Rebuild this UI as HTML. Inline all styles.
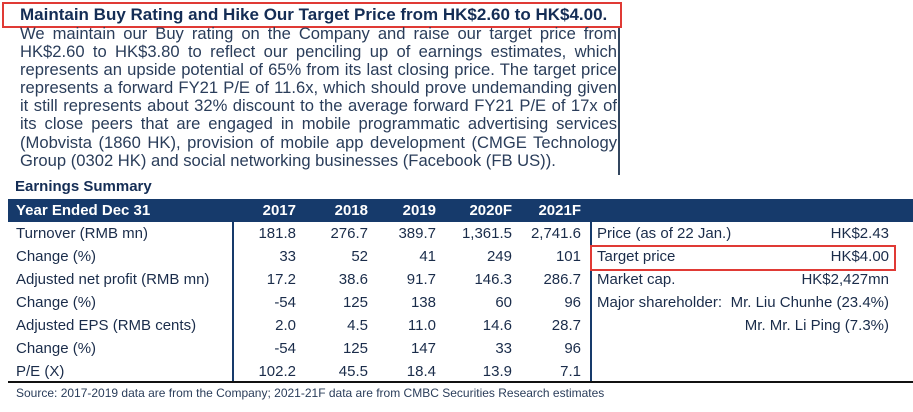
<!DOCTYPE html>
<html><head><meta charset="utf-8"><style>
body{margin:0;width:913px;height:412px;background:#fff;position:relative;overflow:hidden;font-family:"Liberation Sans",sans-serif;color:#1f3458}
.abs{position:absolute}
#title{left:2px;top:2px;width:600px;height:22px;border:2px solid #e03a35;font-weight:bold;font-size:17px;line-height:22px;padding-left:16px;box-sizing:content-box;color:#142d55;white-space:nowrap}
#para{left:20px;top:25px;width:597px;font-size:16.6px;line-height:18.1px;color:#2a3d5a}
#para div{text-align:justify;text-align-last:justify;white-space:nowrap;height:18.1px}
#para div.last{text-align-last:left}
#vline{left:618px;top:28px;width:2px;height:147px;background:#33465f}
.n{font-family:"Liberation Sans Narrow","Liberation Sans",sans-serif;font-size:15px;white-space:nowrap}
#band{left:8px;top:199px;width:905px;height:23px;background:#163a6b}
.h{color:#fff;font-weight:bold;top:202px}
.cell{color:#1a2c4a}
</style></head><body>
<div id="title" class="abs">Maintain Buy Rating and Hike Our Target Price from HK$2.60 to HK$4.00.</div>
<div id="para" class="abs">
<div>We maintain our Buy rating on the Company and raise our target price from</div>
<div>HK$2.60 to HK$3.80 to reflect our penciling up of earnings estimates, which</div>
<div>represents an upside potential of 65% from its last closing price. The target price</div>
<div>represents a forward FY21 P/E of 11.6x, which should prove undemanding given</div>
<div>it still represents about 32% discount to the average forward FY21 P/E of 17x of</div>
<div>its close peers that are engaged in mobile programmatic advertising services</div>
<div>(Mobvista (1860 HK), provision of mobile app development (CMGE Technology</div>
<div class="last">Group (0302 HK) and social networking businesses (Facebook (FB US)).</div>
</div>
<div id="vline" class="abs"></div>
<div class="abs n" style="left:15px;top:178px;font-weight:bold;font-size:15px;color:#142d55">Earnings Summary</div>
<div id="band" class="abs"></div>
<div class="abs" style="left:232px;top:199px;width:2px;height:184px;background:#163a6b"></div>
<div class="abs" style="left:590px;top:199px;width:2px;height:184px;background:#163a6b"></div>
<div class="abs" style="left:8px;top:381px;width:905px;height:2px;background:#111"></div>
<div class="abs" style="left:590px;top:245px;width:302px;height:22px;border:2px solid #e03a35"></div>
<div class="abs n" style="left:16px;top:386px;font-size:12px;color:#2a3d5a">Source: 2017-2019 data are from the Company; 2021-21F data are from CMBC Securities Research estimates</div>
<script>
const years=["2017","2018","2019","2020F","2021F"];
const labels=["Turnover (RMB mn)","Change (%)","Adjusted net profit (RMB mn)","Change (%)","Adjusted EPS (RMB cents)","Change (%)","P/E (X)"];
const v2017=["181.8","33","17.2","-54","2.0","-54","102.2"];
const v2018=["276.7","52","38.6","125","4.5","125","45.5"];
const v2019=["389.7","41","91.7","138","11.0","147","18.4"];
const v2020=["1,361.5","249","146.3","60","14.6","33","13.9"];
const v2021=["2,741.6","101","286.7","96","28.7","96","7.1"];
const sideLabels=["Price (as of 22 Jan.)","Target price","Market cap.","Major shareholder:",""];
const sideValues=["HK$2.43","HK$4.00","HK$2,427mn","Mr. Liu Chunhe (23.4%)","Mr. Mr. Li Ping (7.3%)"];
const cols=[v2017,v2018,v2019,v2020,v2021];
const colRight=[296,368,436,512,581];
const root=document.body;
function add(text,left,top,right,cls){
  const d=document.createElement('div');
  d.className='abs n '+(cls||'');
  d.textContent=text;
  d.style.top=top+'px';
  if(right){d.style.right=(913-left)+'px';}else{d.style.left=left+'px';}
  root.appendChild(d);return d;
}
let e=add("Year Ended Dec 31",16,202,false,'h');


years.forEach((y,i)=>{
  const d=add(y,colRight[i],202,true,'h');
  
  
});
labels.forEach((l,r)=>{
  const top=225+r*23;
  const d=add(l,16,top,false,'cell');
  
  
  cols.forEach((c,i)=>{
    const v=add(c[r],colRight[i],top,true,'cell');
    
    
  });
});
sideLabels.forEach((l,r)=>{
  const top=225+r*23;
  if(l){const d=add(l,597,top,false,'cell');
  
  }
  const v=add(sideValues[r],889,top,true,'cell');
  
  
});
</script>
</body></html>
